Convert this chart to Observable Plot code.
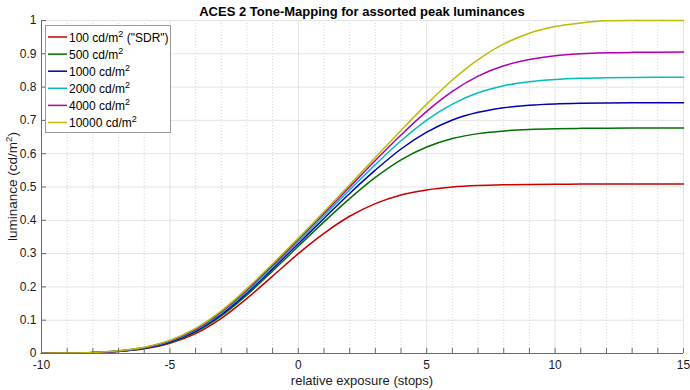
<!DOCTYPE html>
<html><head><meta charset="utf-8">
<script src="https://cdn.jsdelivr.net/npm/d3@7"></script>
<script src="https://cdn.jsdelivr.net/npm/@observablehq/plot@0.6"></script>
<style>
html,body{margin:0;padding:0;background:#fff;}
#chart{width:690px;height:390px;}
</style></head>
<body><div id="chart"></div>
<script>
// ---- data ----
const exposure = [-10,-9,-8,-7,-6,-5,-4,-3,-2,-1,0,1,2,3,4,5,6,7,8,9,10,11,12,13,14,15];
const lum100   = [0.0004,0.0009,0.0024,0.0060,0.0140,0.0305,0.0599,0.1057,0.1656,0.2323,0.2998,0.3608,0.4121,0.4501,0.4761,0.4911,0.4998,0.5043,0.5066,0.5078,0.5084,0.5087,0.5089,0.5090,0.5090,0.5090];
const lum500   = [0.0004,0.0010,0.0026,0.0065,0.0152,0.0330,0.0646,0.1128,0.1760,0.2477,0.3220,0.3952,0.4651,0.5287,0.5817,0.6200,0.6457,0.6603,0.6685,0.6728,0.6750,0.6761,0.6767,0.6770,0.6771,0.6772];
const lum1000  = [0.0004,0.0011,0.0028,0.0069,0.0161,0.0347,0.0674,0.1170,0.1814,0.2542,0.3298,0.4056,0.4807,0.5506,0.6141,0.6645,0.7013,0.7242,0.7382,0.7456,0.7494,0.7513,0.7523,0.7528,0.7530,0.7531];
const lum2000  = [0.00045,0.0012,0.0030,0.0073,0.0171,0.0365,0.0702,0.1213,0.1864,0.2599,0.3362,0.4137,0.4913,0.5673,0.6388,0.7011,0.7489,0.7829,0.8039,0.8161,0.8229,0.8265,0.8283,0.8292,0.8297,0.8299];
const lum4000  = [0.0005,0.0012,0.0031,0.0078,0.0179,0.0381,0.0728,0.1249,0.1913,0.2648,0.3421,0.4204,0.5000,0.5796,0.6562,0.7271,0.7870,0.8329,0.8641,0.8827,0.8943,0.9000,0.9029,0.9043,0.9050,0.9054];
const lum10000 = [0.0005,0.0013,0.0033,0.0081,0.0187,0.0394,0.0753,0.1280,0.1949,0.2695,0.3464,0.4257,0.5068,0.5886,0.6699,0.7488,0.8214,0.8826,0.9296,0.9618,0.9817,0.9927,0.9989,1.0,1.0,1.0];

const seriesKeys   = ["100", "500", "1000", "2000", "4000", "10000"];
const legendSuffix = [' ("SDR")', "", "", "", "", ""];
const seriesColors = ["#c40000", "#006f00", "#0000b0", "#00bcbc", "#b000b0", "#bcbc00"];

const xTickValues  = [-10, -5, 0, 5, 10, 15];
const xMinorTicks  = [-10,-9,-8,-7,-6,-5,-4,-3,-2,-1,0,1,2,3,4,5,6,7,8,9,10,11,12,13,14,15];
const yTickValues  = [0, 0.1, 0.2, 0.3, 0.4, 0.5, 0.6, 0.7, 0.8, 0.9, 1];

const titleText  = "ACES 2 Tone-Mapping for assorted peak luminances";
const xLabelText = "relative exposure (stops)";

// ---- build table ----
const seriesValues = [lum100, lum500, lum1000, lum2000, lum4000, lum10000];
const table = [];
seriesValues.forEach((vals, s) => vals.forEach((v, i) => table.push({x: exposure[i], y: v, series: seriesKeys[s]})));

const W = 690, H = 390, mL = 41, mR = 7, mT = 20, mB = 37;
const innerW = W - mL - mR, innerH = H - mT - mB;
const axisColor = "#6a6a6a";
const font = '"Liberation Sans", Arial, Helvetica, sans-serif';

const chart = Plot.plot({
  width: W, height: H,
  marginLeft: mL, marginRight: mR, marginTop: mT, marginBottom: mB,
  style: {fontFamily: font, fontSize: "12px", color: "#1a1a1a", background: "#fff", overflow: "visible"},
  x: {domain: [-10, 15]},
  y: {domain: [0, 1]},
  color: {domain: seriesKeys, range: seriesColors},
  marks: [
    Plot.ruleX(xMinorTicks.filter(d => !xTickValues.includes(d)), {stroke: "#d4d4d4", strokeDasharray: "1 2"}),
    Plot.ruleX(xTickValues.slice(1), {stroke: "#e3e3e3"}),
    Plot.ruleY(yTickValues.slice(1), {stroke: "#e3e3e3"}),
    Plot.line(table, {x: "x", y: "y", z: "series", stroke: "series", curve: "monotone-x", strokeWidth: 1.5}),
    Plot.tickX(xMinorTicks, {x: d => d, insetTop: innerH - 5, stroke: axisColor}),
    Plot.tickY(yTickValues, {y: d => d, insetRight: innerW - 5, stroke: axisColor}),
    Plot.ruleX([-10], {stroke: axisColor}),
    Plot.ruleY([0], {stroke: axisColor}),
    Plot.axisX(xTickValues, {tickSize: 0, tickPadding: 7, tickFormat: d => String(d), label: null, fill: "#1a1a1a"}),
    Plot.axisY(yTickValues, {tickSize: 0, tickPadding: 5, tickFormat: d => String(d), label: null, fill: "#1a1a1a"})
  ]
});

const svg = d3.select(chart);
const cx = mL + innerW / 2;

// title
svg.append("text").attr("x", cx).attr("y", 16).attr("text-anchor", "middle")
  .attr("font-family", font).attr("font-size", 13).attr("font-weight", "bold").attr("fill", "#000")
  .text(titleText);

// x label
svg.append("text").attr("x", cx).attr("y", 385).attr("text-anchor", "middle")
  .attr("font-family", font).attr("font-size", 13).attr("fill", "#1a1a1a")
  .text(xLabelText);

// y label with superscript
const yl = svg.append("text").attr("transform", `translate(17,${mT + innerH / 2}) rotate(-90)`)
  .attr("text-anchor", "middle").attr("font-family", font).attr("font-size", 13.5).attr("fill", "#1a1a1a");
yl.append("tspan").text("luminance (cd/m");
yl.append("tspan").attr("dy", -5).attr("font-size", 9.5).text("2");
yl.append("tspan").attr("dy", 5).text(")");

// legend
const lg = svg.append("g").attr("text-anchor", "start");
const lgX = 45.5, lgY = 25.5, lgW = 125, lgH = 107, rowH = 17.1, row0 = 37;
lg.append("rect").attr("x", lgX).attr("y", lgY).attr("width", lgW).attr("height", lgH)
  .attr("fill", "#fff").attr("stroke", "#999");
seriesKeys.forEach((k, i) => {
  const ry = row0 + rowH * i;
  lg.append("line").attr("x1", 48).attr("x2", 67).attr("y1", ry).attr("y2", ry)
    .attr("stroke", seriesColors[i]).attr("stroke-width", 1.5);
  const t = lg.append("text").attr("x", 69).attr("y", ry + 4.5).attr("text-anchor", "start")
    .attr("font-family", font).attr("font-size", 12).attr("fill", "#000");
  t.append("tspan").text(k + " cd/m");
  t.append("tspan").attr("dy", -5).attr("font-size", 9).text("2");
  t.append("tspan").attr("dy", 5).text(legendSuffix[i]);
});

document.getElementById("chart").appendChild(chart);
</script>
</body></html>
